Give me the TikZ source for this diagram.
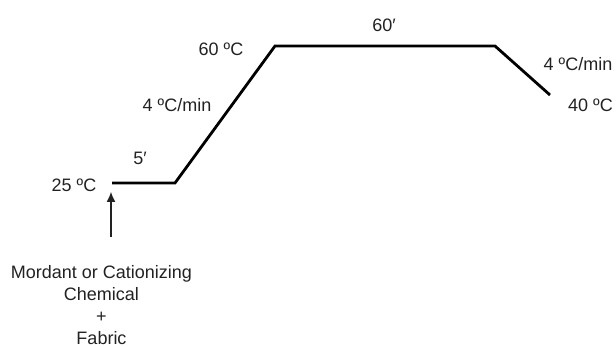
\documentclass[tikz,border=0pt]{standalone}
\usepackage{fontspec}
\setmainfont{Liberation Sans}
\usetikzlibrary{arrows.meta}

\begin{document}
\begin{tikzpicture}[x=1pt,y=-1pt]
        %%init
        %温度平台高度
        \newcommand{\tlow}{183}
        \newcommand{\thigh}{46}
        %各转折点横坐标
        \newcommand{\xstart}{112}
        \newcommand{\xheat}{175}
        \newcommand{\xhold}{275}
        \newcommand{\xcool}{495}
        \useasboundingbox (0,0) rectangle (616,347);

        %%样式
        \definecolor{label_color}{RGB}{34,34,34}
        \tikzset{profile/.style = {line width=2.8pt, line join=miter}}
        \tikzset{lbl/.style = {inner sep=0pt, text=label_color, font=\fontsize{18}{22}\selectfont}}
        \tikzset{feed/.style = {line width=1.1pt, draw=label_color, -{Latex[length=10pt,width=9pt]}}}

        %%转折点
        \coordinate (A) at (\xstart,\tlow);
        \coordinate (B) at (\xheat,\tlow);
        \coordinate (C) at (\xhold,\thigh);
        \coordinate (D) at (\xcool,\thigh);
        \coordinate (E) at (550,95);

        %%温度曲线
        \draw[profile] (A)--(B)--(C)--(D)--(E);

        %%标注
        \node[lbl] (t25) at (74,185) {25 ºC};
        \node[lbl] (hold5) at (140,158) {5′};
        \node[lbl] (rateup) at (177,105) {4 ºC/min};
        \node[lbl] (t60) at (221,49) {60 ºC};
        \node[lbl] (hold60) at (384,25) {60′};
        \node[lbl] (ratedown) at (578,64) {4 ºC/min};
        \node[lbl,anchor=west] (t40) at (568,105) {40 ºC};

        %%加料
        \node[lbl,align=center,anchor=north] (chem) at (101.5,265.5) {Mordant or Cationizing\\Chemical\\+\\Fabric};
        \coordinate (feedbot) at (111,237);
        \coordinate (feedtop) at (111,192);
        \draw[feed] (feedbot)--(feedtop);
\end{tikzpicture}
\end{document}
